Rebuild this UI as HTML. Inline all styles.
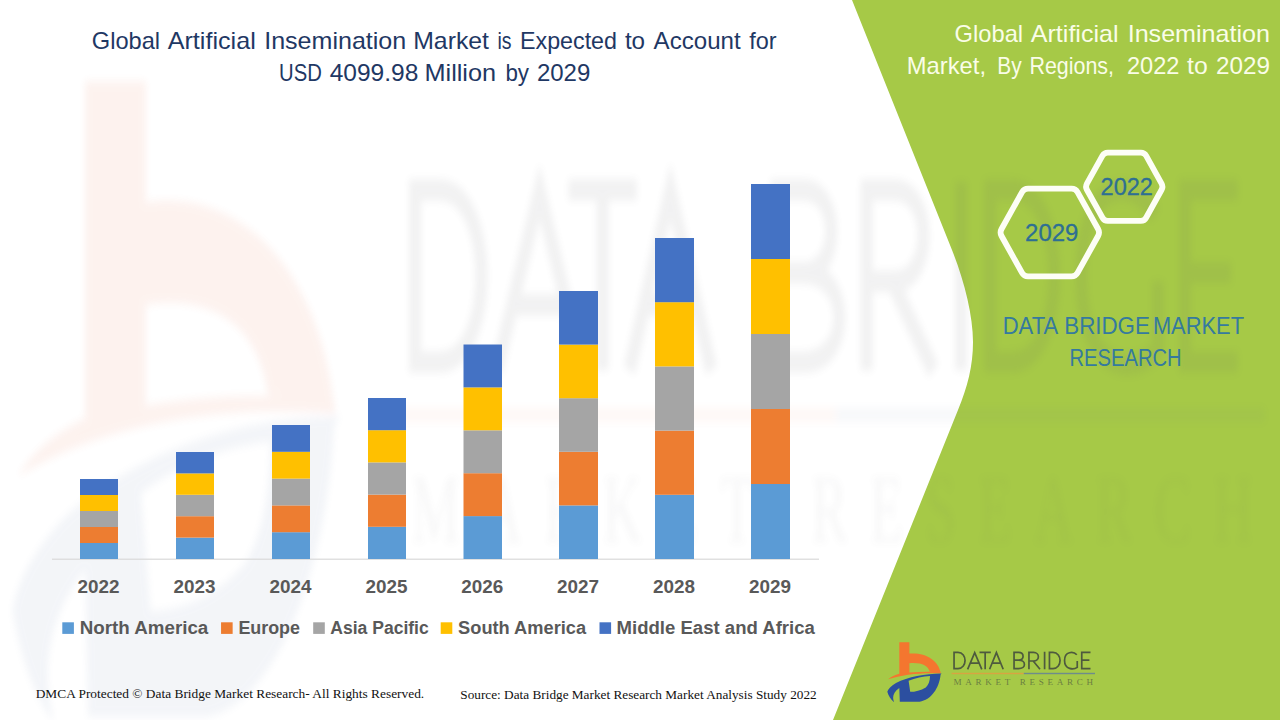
<!DOCTYPE html>
<html>
<head>
<meta charset="utf-8">
<title>Global Artificial Insemination Market</title>
<style>
html, body { margin: 0; padding: 0; background: #ffffff; }
body { width: 1280px; height: 720px; overflow: hidden; font-family: "Liberation Sans", sans-serif; }
svg { display: block; }
.sans { font-family: "Liberation Sans", sans-serif; }
.serif { font-family: "Liberation Serif", serif; }
</style>
</head>
<body>
<svg width="1280" height="720" viewBox="0 0 1280 720">
<defs>
  <filter id="wmblur" x="-5%" y="-5%" width="110%" height="110%"><feGaussianBlur stdDeviation="3 4"/></filter>
  <filter id="edgeshadow" x="-10%" y="-5%" width="120%" height="110%"><feGaussianBlur stdDeviation="2"/></filter>
  <symbol id="logo" viewBox="0 0 212.3 67.3" preserveAspectRatio="none">
    <g transform="translate(-885.2,-634.7)">
      <path fill="#F4762F" d="M899.3,642.3 L909.4,642.3 L909.4,653.6 C925,652.2 938.2,660 940.6,672.6 L929.6,671.6 C928.2,665.4 921,662.2 909.4,663.2 L909.4,672.6 C920,671.6 930,671.4 940.6,672.2 L940.8,673.4 C922,672.4 902,674.4 888.2,679.2 C891,676.6 895,675 899.3,673.8 Z"/>
      <path fill="#2C4FA0" fill-rule="evenodd" d="M941.6,673.6 C925,673.6 908,677 896,683 C891,686 888,689 887.3,691.8 C888.5,696 891,700 894.2,702.2 C892,697.5 893,692.5 899.3,688 L899.8,701.7 L919.6,701.7 C931,700.4 939.4,688 940.6,674.6 Z M908.6,680.8 C915,678 923,676.4 930,676 C930,681 928.5,685 925.8,687.4 C921,690.5 915,691.8 910.2,691.8 Z"/>
      <g fill="none" stroke="#4E5A3E" stroke-width="1.7" stroke-linejoin="miter" stroke-miterlimit="6">
        <path d="M954.05,652.45 L958,652.45 C967.4,652.45 967.4,668.55 958,668.55 L954.05,668.55 Z"/>
        <path d="M967.6,669.3 L974.7,652.6 L981.8,669.3 M970.2,663.2 L979.2,663.2"/>
        <path d="M979.5,652.45 L990.8,652.45 M985.15,652.45 L985.15,669.3"/>
        <path d="M989.6,669.3 L996.4,652.6 L1003.2,669.3 M992.1,663.2 L1000.7,663.2"/>
        <path d="M1014.05,660.2 L1014.05,652.45 L1018.5,652.45 C1024.6,652.45 1024.6,660.2 1018.5,660.2 L1014.05,660.2 L1014.05,668.55 L1018.5,668.55 C1026.4,668.55 1026.4,660.2 1018.5,660.2"/>
        <path d="M1028.95,669.3 L1028.95,652.45 L1033.5,652.45 C1040,652.45 1040,661 1033.5,661 L1028.95,661 M1033.2,661 L1040,669.3"/>
        <path d="M1044.6,651.7 L1044.6,669.3"/>
        <path d="M1049.45,652.45 L1053,652.45 C1062.4,652.45 1062.4,668.55 1053,668.55 L1049.45,668.55 Z"/>
        <path d="M1076.8,654.8 C1073.5,651.2 1064.55,651 1064.55,660.5 C1064.55,670 1073.8,669.8 1077.25,667.4 L1077.25,661"/>
        <path d="M1090.5,652.45 L1081.75,652.45 L1081.75,668.55 L1090.5,668.55 M1081.75,660.2 L1089.4,660.2"/>
      </g>
      <rect x="951.6" y="672.8" width="72.2" height="1.4" fill="#D9A441" fill-opacity="1"/>
      <rect x="1023.8" y="672.8" width="71.2" height="1.4" fill="#6E8C8C" fill-opacity="1"/>
      <text x="953.4" y="685.4" font-family="Liberation Serif, serif" font-size="9.1" fill="#4E5A3E" fill-opacity="0.7" textLength="139.6" lengthAdjust="spacing">MARKET  RESEARCH</text>
    </g>
  </symbol>
  <symbol id="logowm" viewBox="0 0 212.3 67.3" preserveAspectRatio="none">
    <g transform="translate(-885.2,-634.7)">
      <path fill="#E7663A" d="M899.3,642.3 L909.4,642.3 L909.4,653.6 C925,652.2 938.2,660 940.6,672.6 L929.6,671.6 C928.2,665.4 921,662.2 909.4,663.2 L909.4,672.6 C920,671.6 930,671.4 940.6,672.2 L940.8,673.4 C922,672.4 902,674.4 888.2,679.2 C891,676.6 895,675 899.3,673.8 Z"/>
      <path fill="#6E86B0" fill-rule="evenodd" d="M941.6,673.6 C925,673.6 908,677 896,683 C891,686 888,689 887.3,691.8 C888.5,696 891,700 894.2,702.2 C892,697.5 893,692.5 899.3,688 L899.8,701.7 L919.6,701.7 C931,700.4 939.4,688 940.6,674.6 Z M908.6,680.8 C915,678 923,676.4 930,676 C930,681 928.5,685 925.8,687.4 C921,690.5 915,691.8 910.2,691.8 Z"/>
      <g fill="none" stroke="#5C5C62" stroke-width="2.0" stroke-linejoin="miter" stroke-miterlimit="6">
        <path d="M954.05,652.45 L958,652.45 C967.4,652.45 967.4,668.55 958,668.55 L954.05,668.55 Z"/>
        <path d="M967.6,669.3 L974.7,652.6 L981.8,669.3 M970.2,663.2 L979.2,663.2"/>
        <path d="M979.5,652.45 L990.8,652.45 M985.15,652.45 L985.15,669.3"/>
        <path d="M989.6,669.3 L996.4,652.6 L1003.2,669.3 M992.1,663.2 L1000.7,663.2"/>
        <path d="M1014.05,660.2 L1014.05,652.45 L1018.5,652.45 C1024.6,652.45 1024.6,660.2 1018.5,660.2 L1014.05,660.2 L1014.05,668.55 L1018.5,668.55 C1026.4,668.55 1026.4,660.2 1018.5,660.2"/>
        <path d="M1028.95,669.3 L1028.95,652.45 L1033.5,652.45 C1040,652.45 1040,661 1033.5,661 L1028.95,661 M1033.2,661 L1040,669.3"/>
        <path d="M1044.6,651.7 L1044.6,669.3"/>
        <path d="M1049.45,652.45 L1053,652.45 C1062.4,652.45 1062.4,668.55 1053,668.55 L1049.45,668.55 Z"/>
        <path d="M1076.8,654.8 C1073.5,651.2 1064.55,651 1064.55,660.5 C1064.55,670 1073.8,669.8 1077.25,667.4 L1077.25,661"/>
        <path d="M1090.5,652.45 L1081.75,652.45 L1081.75,668.55 L1090.5,668.55 M1081.75,660.2 L1089.4,660.2"/>
      </g>
      <rect x="951.6" y="672.8" width="72.2" height="1.4" fill="#E7663A" fill-opacity="0.55"/>
      <rect x="1023.8" y="672.8" width="71.2" height="1.4" fill="#5A6A90" fill-opacity="0.55"/>
      <text x="953.4" y="685.4" font-family="Liberation Serif, serif" font-size="9.1" fill="#5C5C62" fill-opacity="0.6" textLength="139.6" lengthAdjust="spacing">MARKET  RESEARCH</text>
    </g>
  </symbol>
</defs>

<rect x="0" y="0" width="1280" height="720" fill="#ffffff"/>

<!-- green panel -->
<path d="M852,0 L952,250 C964,280 973,315 973,342 C973,366 967.5,387 958,410 L833,720 L1280,720 L1280,0 Z" fill="#A6C947"/>

<!-- watermark (stretched logo) -->
<g opacity="0.08" filter="url(#wmblur)">
  <use href="#logowm" x="0" y="0" width="1280" height="720"/>
</g>

<!-- chart -->
<rect x="52" y="558.6" width="767" height="1.2" fill="#D9D9D9"/>
<rect x="80" y="543.00" width="38" height="16.00" fill="#5B9BD5"/>
<rect x="80" y="527.00" width="38" height="16.00" fill="#ED7D31"/>
<rect x="80" y="511.00" width="38" height="16.00" fill="#A5A5A5"/>
<rect x="80" y="495.00" width="38" height="16.00" fill="#FFC000"/>
<rect x="80" y="479.00" width="38" height="16.00" fill="#4472C4"/>
<rect x="176" y="537.60" width="38" height="21.40" fill="#5B9BD5"/>
<rect x="176" y="516.20" width="38" height="21.40" fill="#ED7D31"/>
<rect x="176" y="494.80" width="38" height="21.40" fill="#A5A5A5"/>
<rect x="176" y="473.40" width="38" height="21.40" fill="#FFC000"/>
<rect x="176" y="452.00" width="38" height="21.40" fill="#4472C4"/>
<rect x="272" y="532.20" width="38" height="26.80" fill="#5B9BD5"/>
<rect x="272" y="505.40" width="38" height="26.80" fill="#ED7D31"/>
<rect x="272" y="478.60" width="38" height="26.80" fill="#A5A5A5"/>
<rect x="272" y="451.80" width="38" height="26.80" fill="#FFC000"/>
<rect x="272" y="425.00" width="38" height="26.80" fill="#4472C4"/>
<rect x="368" y="526.80" width="38" height="32.20" fill="#5B9BD5"/>
<rect x="368" y="494.60" width="38" height="32.20" fill="#ED7D31"/>
<rect x="368" y="462.40" width="38" height="32.20" fill="#A5A5A5"/>
<rect x="368" y="430.20" width="38" height="32.20" fill="#FFC000"/>
<rect x="368" y="398.00" width="38" height="32.20" fill="#4472C4"/>
<rect x="463.5" y="516.10" width="38.5" height="42.90" fill="#5B9BD5"/>
<rect x="463.5" y="473.20" width="38.5" height="42.90" fill="#ED7D31"/>
<rect x="463.5" y="430.30" width="38.5" height="42.90" fill="#A5A5A5"/>
<rect x="463.5" y="387.40" width="38.5" height="42.90" fill="#FFC000"/>
<rect x="463.5" y="344.50" width="38.5" height="42.90" fill="#4472C4"/>
<rect x="559" y="505.40" width="39" height="53.60" fill="#5B9BD5"/>
<rect x="559" y="451.80" width="39" height="53.60" fill="#ED7D31"/>
<rect x="559" y="398.20" width="39" height="53.60" fill="#A5A5A5"/>
<rect x="559" y="344.60" width="39" height="53.60" fill="#FFC000"/>
<rect x="559" y="291.00" width="39" height="53.60" fill="#4472C4"/>
<rect x="655" y="494.80" width="39" height="64.20" fill="#5B9BD5"/>
<rect x="655" y="430.60" width="39" height="64.20" fill="#ED7D31"/>
<rect x="655" y="366.40" width="39" height="64.20" fill="#A5A5A5"/>
<rect x="655" y="302.20" width="39" height="64.20" fill="#FFC000"/>
<rect x="655" y="238.00" width="39" height="64.20" fill="#4472C4"/>
<rect x="751" y="484.00" width="39" height="75.00" fill="#5B9BD5"/>
<rect x="751" y="409.00" width="39" height="75.00" fill="#ED7D31"/>
<rect x="751" y="334.00" width="39" height="75.00" fill="#A5A5A5"/>
<rect x="751" y="259.00" width="39" height="75.00" fill="#FFC000"/>
<rect x="751" y="184.00" width="39" height="75.00" fill="#4472C4"/>
<g class="sans" font-family="Liberation Sans, sans-serif" font-weight="bold" font-size="18.8" fill="#595959">
<text x="77.50" y="593.1" textLength="41.99" lengthAdjust="spacingAndGlyphs">2022</text>
<text x="173.50" y="593.1" textLength="41.99" lengthAdjust="spacingAndGlyphs">2023</text>
<text x="269.50" y="593.1" textLength="41.99" lengthAdjust="spacingAndGlyphs">2024</text>
<text x="365.50" y="593.1" textLength="41.99" lengthAdjust="spacingAndGlyphs">2025</text>
<text x="461.25" y="593.1" textLength="41.99" lengthAdjust="spacingAndGlyphs">2026</text>
<text x="557.00" y="593.1" textLength="41.99" lengthAdjust="spacingAndGlyphs">2027</text>
<text x="653.00" y="593.1" textLength="41.99" lengthAdjust="spacingAndGlyphs">2028</text>
<text x="749.00" y="593.1" textLength="41.99" lengthAdjust="spacingAndGlyphs">2029</text>
</g>
<g class="sans" font-family="Liberation Sans, sans-serif" font-weight="bold" font-size="18.7" fill="#595959">
<rect x="62.3" y="622.3" width="11.6" height="11.6" fill="#5B9BD5"/>
<text x="79.70" y="634" textLength="128.58" lengthAdjust="spacingAndGlyphs">North America</text>
<rect x="221.05" y="622.3" width="11.6" height="11.6" fill="#ED7D31"/>
<text x="238.40" y="634" textLength="61.60" lengthAdjust="spacingAndGlyphs">Europe</text>
<rect x="313.2" y="622.3" width="11.6" height="11.6" fill="#A5A5A5"/>
<text x="330.30" y="634" textLength="98.44" lengthAdjust="spacingAndGlyphs">Asia Pacific</text>
<rect x="440.7" y="622.3" width="11.6" height="11.6" fill="#FFC000"/>
<text x="458.10" y="634" textLength="127.97" lengthAdjust="spacingAndGlyphs">South America</text>
<rect x="599.5" y="622.3" width="11.6" height="11.6" fill="#4472C4"/>
<text x="616.60" y="634" textLength="198.27" lengthAdjust="spacingAndGlyphs">Middle East and Africa</text>
</g>

<!-- title -->
<g font-family="Liberation Sans, sans-serif" font-size="24" fill="#1F3864">
  <text x="91.80" y="48.7" textLength="68.32" lengthAdjust="spacingAndGlyphs">Global</text>
  <text x="167.70" y="48.7" textLength="88.12" lengthAdjust="spacingAndGlyphs">Artificial</text>
  <text x="264.20" y="48.7" textLength="142.00" lengthAdjust="spacingAndGlyphs">Insemination</text>
  <text x="413.20" y="48.7" textLength="75.83" lengthAdjust="spacingAndGlyphs">Market</text>
  <text x="497.50" y="48.7" textLength="14.04" lengthAdjust="spacingAndGlyphs">is</text>
  <text x="520.00" y="48.7" textLength="96.99" lengthAdjust="spacingAndGlyphs">Expected</text>
  <text x="624.90" y="48.7" textLength="20.18" lengthAdjust="spacingAndGlyphs">to</text>
  <text x="653.60" y="48.7" textLength="87.06" lengthAdjust="spacingAndGlyphs">Account</text>
  <text x="749.20" y="48.7" textLength="27.35" lengthAdjust="spacingAndGlyphs">for</text>
  <text x="279.10" y="80.5" textLength="42.73" lengthAdjust="spacingAndGlyphs">USD</text>
  <text x="329.70" y="80.5" textLength="88.60" lengthAdjust="spacingAndGlyphs">4099.98</text>
  <text x="424.50" y="80.5" textLength="71.58" lengthAdjust="spacingAndGlyphs">Million</text>
  <text x="505.40" y="80.5" textLength="23.63" lengthAdjust="spacingAndGlyphs">by</text>
  <text x="536.90" y="80.5" textLength="53.39" lengthAdjust="spacingAndGlyphs">2029</text>
</g>

<!-- right panel title -->
<g font-family="Liberation Sans, sans-serif" font-size="24" fill="#FAFDE8">
  <text x="954.60" y="42" textLength="68.52" lengthAdjust="spacingAndGlyphs">Global</text>
  <text x="1030.80" y="42" textLength="87.72" lengthAdjust="spacingAndGlyphs">Artificial</text>
  <text x="1127.70" y="42" textLength="142.30" lengthAdjust="spacingAndGlyphs">Insemination</text>
  <text x="906.80" y="74" textLength="79.18" lengthAdjust="spacingAndGlyphs">Market,</text>
  <text x="997.30" y="74" textLength="24.34" lengthAdjust="spacingAndGlyphs">By</text>
  <text x="1029.50" y="74" textLength="84.44" lengthAdjust="spacingAndGlyphs">Regions,</text>
  <text x="1127.00" y="74" textLength="52.49" lengthAdjust="spacingAndGlyphs">2022</text>
  <text x="1187.10" y="74" textLength="20.67" lengthAdjust="spacingAndGlyphs">to</text>
  <text x="1216.00" y="74" textLength="53.99" lengthAdjust="spacingAndGlyphs">2029</text>
</g>

<!-- hexagons -->
<g fill="none" stroke="#FDFEF6" stroke-width="5.8" stroke-linejoin="round">
  <path d="M1001.54,236.00 Q999.60,232.50 1001.54,229.00 L1022.06,192.10 Q1024.00,188.60 1028.00,188.60 L1071.60,188.60 Q1075.60,188.60 1077.54,192.10 L1098.06,229.00 Q1100.00,232.50 1098.06,236.00 L1077.54,272.90 Q1075.60,276.40 1071.60,276.40 L1028.00,276.40 Q1024.00,276.40 1022.06,272.90 Z"/>
  <path d="M1086.90,189.76 Q1085.20,186.70 1086.90,183.64 L1102.50,155.66 Q1104.20,152.60 1107.70,152.60 L1140.90,152.60 Q1144.40,152.60 1146.10,155.66 L1161.60,183.64 Q1163.30,186.70 1161.60,189.76 L1146.10,217.74 Q1144.40,220.80 1140.90,220.80 L1107.70,220.80 Q1104.20,220.80 1102.50,217.74 Z"/>
</g>
<g font-family="Liberation Sans, sans-serif" font-size="23.6" fill="#2E6F93" stroke="#2E6F93" stroke-width="0.3">
  <text x="1100.60" y="194.9" textLength="52.29" lengthAdjust="spacingAndGlyphs">2022</text>
  <text x="1025.10" y="240.8" textLength="53.29" lengthAdjust="spacingAndGlyphs">2029</text>
</g>

<!-- DBMR text -->
<g font-family="Liberation Sans, sans-serif" font-size="23.7" fill="#357A9E">
  <text x="1002.70" y="334" textLength="55.47" lengthAdjust="spacingAndGlyphs">DATA</text>
  <text x="1064.30" y="334" textLength="85.58" lengthAdjust="spacingAndGlyphs">BRIDGE</text>
  <text x="1152.90" y="334" textLength="91.15" lengthAdjust="spacingAndGlyphs">MARKET</text>
  <text x="1069.50" y="365.7" textLength="112.14" lengthAdjust="spacingAndGlyphs">RESEARCH</text>
</g>

<!-- small logo -->
<use href="#logo" x="885.2" y="634.7" width="212.3" height="67.3"/>

<!-- footer -->
<g font-family="Liberation Serif, serif" font-size="13.33" fill="#111111">
  <text x="35.70" y="697.9" textLength="388.52" lengthAdjust="spacingAndGlyphs">DMCA Protected © Data Bridge Market Research- All Rights Reserved.</text>
  <text x="460.30" y="698.9" textLength="356.37" lengthAdjust="spacingAndGlyphs">Source: Data Bridge Market Research Market Analysis Study 2022</text>
</g>
</svg>
</body>
</html>
